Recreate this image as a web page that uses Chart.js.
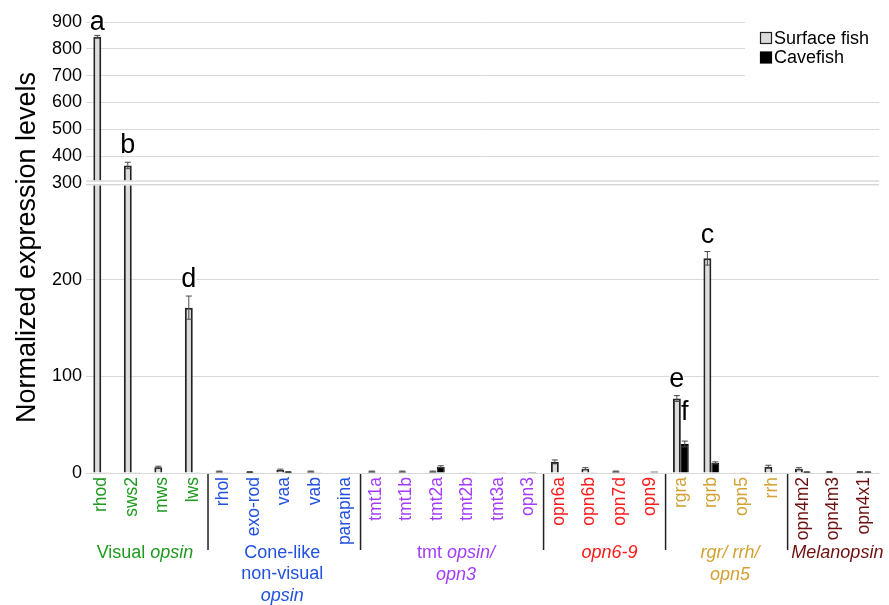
<!DOCTYPE html>
<html>
<head>
<meta charset="UTF-8">
<title>Opsin expression</title>
<script src="https://cdn.jsdelivr.net/npm/chart.js@4.4.1/dist/chart.umd.min.js"></script>
<style>
  html, body { margin: 0; padding: 0; background: #fff; }
  #wrap { position: relative; width: 889px; height: 605px; }
</style>
</head>
<body>
<div id="wrap"><canvas id="myChart"></canvas></div>
<script>
// data
var genes = ['rhod','sws2','mws','lws','rhol','exo-rod','vaa','vab','parapina',
             'tmt1a','tmt1b','tmt2a','tmt2b','tmt3a','opn3',
             'opn6a','opn6b','opn7d','opn9','rgra','rgrb','opn5','rrh',
             'opn4m2','opn4m3','opn4x1'];
var surface    = [845, 365, 6, 171, 1.5, 1, 3, 1.5, 0, 1.5, 1.5, 1.5, 0.2, 0.2, 0.3, 11.5, 4.5, 1.5, 0.2, 77, 222, 0.2, 6.5, 4.5, 1, 1];
var surfaceErr = [5, 12, 1, 12, 0.5, 0.5, 1, 0.5, 0, 0.5, 0.5, 0.5, 0, 0, 0, 2, 1, 0.5, 0, 3, 7, 0, 1.5, 1, 0.5, 0.5];
var cave       = [0.3, 0.3, 0.5, 0.3, 0.2, 0.5, 1, 0.2, 0, 0.5, 0.5, 6.5, 0.3, 0.3, 1, 0.5, 0.3, 0.3, 1.5, 30, 10.5, 0.3, 0.5, 1, 0.5, 1];
var caveErr    = [0, 0, 0, 0, 0, 0, 0.5, 0, 0, 0, 0, 1, 0, 0, 0, 0, 0, 0, 0, 3, 1, 0, 0, 0.3, 0, 0.3];
var yTicks = [0, 100, 200, 300, 400, 500, 600, 700, 800, 900];

// groups under the axis
var groupSizes = [4, 5, 6, 4, 4, 3];
var groupLines = [
  [[['Visual ', 0], ['opsin', 1]]],
  [[['Cone-like', 0]], [['non-visual', 0]], [['opsin', 1]]],
  [[['tmt ', 0], ['opsin/', 1]], [['opn3', 1]]],
  [[['opn6-9', 1]]],
  [[['rgr/ rrh/', 1]], [['opn5', 1]]],
  [[['Melanopsin', 1]]]
];
var groupColors = ['#1e9a1e', '#2251e0', '#a43cff', '#ff1a1a', '#d2a132', '#6e1010'];

// significance letters
var letterGene   = ['rhod', 'sws2', 'lws', 'rgrb', 'rgra', 'rgra'];
var letterSeries = [0, 0, 0, 0, 0, 1];
var letterText   = ['a', 'b', 'd', 'c', 'e', 'f'];

// broken axis: above 300 the scale is squeezed
var BREAK = 300, SQUEEZE = 0.2773;
function fwd(v) { return v <= BREAK ? v : BREAK + (v - BREAK) * SQUEEZE; }

var catColors = [];
groupSizes.forEach(function (n, g) { for (var i = 0; i < n; i++) catColors.push(groupColors[g]); });

var FONT = '"Liberation Sans", Arial, Helvetica, sans-serif';
Chart.defaults.font.family = FONT;
Chart.defaults.color = '#000';

var errors = [surfaceErr, caveErr];
var values = [surface, cave];

var errorBars = {
  id: 'errorBars',
  afterDatasetsDraw: function (chart) {
    var ctx = chart.ctx, y = chart.scales.y;
    ctx.save();
    ctx.strokeStyle = '#4a4a4a';
    ctx.lineWidth = 1;
    [0, 1].forEach(function (d) {
      chart.getDatasetMeta(d).data.forEach(function (el, i) {
        var e = errors[d][i], v = values[d][i];
        if (!e) return;
        var t = y.getPixelForValue(fwd(v + e)), b = y.getPixelForValue(fwd(Math.max(0, v - e)));
        ctx.beginPath();
        ctx.moveTo(el.x, t); ctx.lineTo(el.x, b);
        ctx.moveTo(el.x - 3, t); ctx.lineTo(el.x + 3, t);
        ctx.moveTo(el.x - 3, b); ctx.lineTo(el.x + 3, b);
        ctx.stroke();
      });
    });
    ctx.restore();
  }
};

var axisBreak = {
  id: 'axisBreak',
  afterDatasetsDraw: function (chart) {
    var ctx = chart.ctx, a = chart.chartArea;
    var yb = chart.scales.y.getPixelForValue(BREAK);
    ctx.save();
    ctx.fillStyle = '#fff';
    ctx.fillRect(a.left, yb - 2.5, a.right - a.left, 5);
    ctx.fillStyle = '#d4d4d4';
    ctx.fillRect(a.left, yb - 2.5, a.right - a.left, 1.3);
    ctx.fillRect(a.left, yb + 1.2, a.right - a.left, 1.3);
    ctx.restore();
  }
};

var letters = {
  id: 'letters',
  afterDatasetsDraw: function (chart) {
    var ctx = chart.ctx, y = chart.scales.y;
    var gaps = [5, 9, 9, 9, 9, 21];
    ctx.save();
    ctx.font = '27px ' + FONT;
    ctx.textAlign = 'center';
    ctx.textBaseline = 'alphabetic';
    letterText.forEach(function (t, k) {
      var i = genes.indexOf(letterGene[k]), s = letterSeries[k];
      var el = chart.getDatasetMeta(s).data[i];
      var top = y.getPixelForValue(fwd(values[s][i] + errors[s][i]));
      var by = top - gaps[k];
      var w = ctx.measureText(t).width;
      ctx.fillStyle = '#fff';
      ctx.fillRect(el.x - w / 2, by - 20, w, 21);
      ctx.fillStyle = '#000';
      ctx.fillText(t, el.x, by);
    });
    ctx.restore();
  }
};

var groups = {
  id: 'groups',
  afterDraw: function (chart) {
    var ctx = chart.ctx, x = chart.scales.x, a = chart.chartArea;
    var nudge = [-2, -2, 4, 5, 3.5, 4];
    ctx.save();
    var start = 0;
    groupSizes.forEach(function (n, g) {
      var end = start + n - 1;
      // separator after the group
      if (g < groupSizes.length - 1) {
        var sx = (x.getPixelForValue(end) + x.getPixelForValue(end + 1)) / 2;
        ctx.strokeStyle = '#222';
        ctx.lineWidth = 1.5;
        ctx.beginPath();
        ctx.moveTo(sx, a.bottom + 1); ctx.lineTo(sx, a.bottom + 77);
        ctx.stroke();
      }
      var cx = (x.getPixelForValue(start) + x.getPixelForValue(end)) / 2 + nudge[g];
      ctx.fillStyle = groupColors[g];
      ctx.textBaseline = 'middle';
      ctx.textAlign = 'left';
      groupLines[g].forEach(function (line, li) {
        var widths = line.map(function (seg) {
          ctx.font = (seg[1] ? 'italic ' : '') + '18px ' + FONT;
          return ctx.measureText(seg[0]).width;
        });
        var total = widths.reduce(function (p, q) { return p + q; }, 0);
        var px = cx - total / 2, py = a.bottom + 80 + li * 21.5;
        line.forEach(function (seg, si) {
          ctx.font = (seg[1] ? 'italic ' : '') + '18px ' + FONT;
          ctx.fillText(seg[0], px, py);
          px += widths[si];
        });
      });
      start += n;
    });
    ctx.restore();
  }
};

var legendBox = {
  id: 'legendBox',
  afterDraw: function (chart) {
    var ctx = chart.ctx;
    ctx.save();
    ctx.fillStyle = '#fff';
    ctx.fillRect(745, 12, 144, 68);
    ctx.font = '18px ' + FONT;
    ctx.textBaseline = 'middle';
    ctx.textAlign = 'left';
    chart.data.datasets.forEach(function (ds, d) {
      var cy = 38 + d * 19.5;
      ctx.fillStyle = ds.backgroundColor;
      ctx.fillRect(760.5, cy - 5.5, 11, 11);
      ctx.strokeStyle = ds.borderColor;
      ctx.lineWidth = 1.2;
      ctx.strokeRect(760.5, cy - 5.5, 11, 11);
      ctx.fillStyle = '#000';
      ctx.fillText(ds.label, 774, cy + 1);
    });
    ctx.restore();
  }
};

var ctx = document.getElementById('myChart').getContext('2d');
var myChart = new Chart(ctx, {
  type: 'bar',
  data: {
    labels: genes,
    datasets: [{
      label: 'Surface fish',
      data: surface.map(fwd),
      backgroundColor: '#dcdcdc',
      borderColor: '#222',
      borderWidth: 2
    }, {
      label: 'Cavefish',
      data: cave.map(fwd),
      backgroundColor: '#000',
      borderColor: '#000',
      borderWidth: 1
    }]
  },
  options: {
    responsive: true,
    maintainAspectRatio: false,
    animation: false,
    devicePixelRatio: 1,
    layout: { padding: { top: 22, right: 7, bottom: 0, left: 0 } },
    datasets: { bar: { categoryPercentage: 0.52, barPercentage: 1.0 } },
    plugins: { legend: { display: false }, tooltip: { enabled: false } },
    scales: {
      x: {
        grid: { display: false, drawTicks: false },
        border: { display: false },
        ticks: {
          autoSkip: false, minRotation: 90, maxRotation: 90, padding: 4,
          font: { size: 17.5 },
          color: function (c) { return catColors[c.index]; }
        },
        afterFit: function (s) { s.height = 132; }
      },
      y: {
        min: 0,
        max: fwd(900),
        afterBuildTicks: function (s) { s.ticks = yTicks.map(function (v) { return { value: fwd(v) }; }); },
        ticks: {
          padding: 4,
          font: { size: 18 },
          color: '#000',
          callback: function (val, i) { return yTicks[i]; }
        },
        grid: { color: '#d9d9d9', drawTicks: false, lineWidth: 1 },
        border: { display: false },
        title: {
          display: true,
          text: 'Normalized expression levels',
          font: { size: 27 },
          color: '#000',
          padding: { top: 11, bottom: 0 }
        },
        afterFit: function (s) { s.width = 86; }
      }
    }
  },
  plugins: [axisBreak, errorBars, letters, groups, legendBox]
});
</script>
</body>
</html>
